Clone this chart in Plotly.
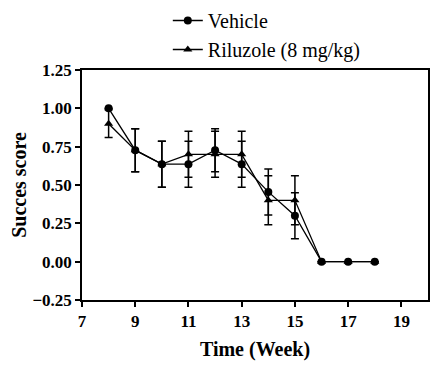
import plotly.graph_objects as go

weeks = [8, 9, 10, 11, 12, 13, 14, 15, 16, 17, 18]
vehicle = [1.00, 0.727, 0.636, 0.636, 0.727, 0.636, 0.455, 0.30, 0.0, 0.0, 0.0]
vehicle_err = [0.0, 0.14, 0.15, 0.15, 0.14, 0.15, 0.15, 0.15, 0.0, 0.0, 0.0]
riluzole = [0.90, 0.727, 0.636, 0.70, 0.70, 0.70, 0.40, 0.40, 0.0, 0.0, 0.0]
riluzole_err = [0.09, 0.14, 0.15, 0.15, 0.15, 0.15, 0.16, 0.16, 0.0, 0.0, 0.0]
series_names = ["Vehicle", "Riluzole (8 mg/kg)"]
x_ticks = [7, 9, 11, 13, 15, 17, 19]
y_ticks = [-0.25, 0.0, 0.25, 0.5, 0.75, 1.0, 1.25]

FONT = "Liberation Serif"

fig = go.Figure()
for name, vals, errs, sym in [
    (series_names[0], vehicle, vehicle_err, "circle"),
    (series_names[1], riluzole, riluzole_err, "triangle-up"),
]:
    fig.add_trace(go.Scatter(
        x=weeks, y=vals, name=name, mode="lines+markers",
        line=dict(color="black", width=1.3),
        marker=dict(symbol=sym, size=8, color="black"),
        error_y=dict(type="data", array=errs, visible=True,
                     color="black", thickness=1.5, width=4),
    ))

fig.update_layout(
    width=443, height=368,
    margin=dict(l=74, r=23, t=62, b=76, autoexpand=False),
    paper_bgcolor="white", plot_bgcolor="white",
    font=dict(family=FONT, color="black"),
    legend=dict(x=0.248, y=1.30, xanchor="left", yanchor="top",
                font=dict(family=FONT, size=20, color="black"),
                bgcolor="rgba(0,0,0,0)", itemwidth=30, tracegroupgap=0),
    showlegend=True,
)
fig.update_xaxes(
    range=[7, 20], tickvals=x_ticks, ticks="outside", ticklen=5,
    tickwidth=1.5, tickcolor="black", automargin=False,
    showline=True, linecolor="black", linewidth=1.5, mirror=True,
    showgrid=False, zeroline=False,
    tickfont=dict(family=FONT, size=17, color="black", weight="bold"),
    title=dict(text="Time (Week)", standoff=12,
               font=dict(family=FONT, size=20, color="black", weight="bold")),
)
fig.update_yaxes(
    range=[-0.25, 1.25], tickvals=y_ticks, tickformat=".2f", ticks="outside",
    ticklen=5, tickwidth=1.5, tickcolor="black", automargin=False,
    showline=True, linecolor="black", linewidth=1.5, mirror=True,
    showgrid=False, zeroline=False,
    tickfont=dict(family=FONT, size=17, color="black", weight="bold"),
    title=dict(text="Succes score", standoff=8,
               font=dict(family=FONT, size=20, color="black", weight="bold")),
)

fig.write_html("out.html")
